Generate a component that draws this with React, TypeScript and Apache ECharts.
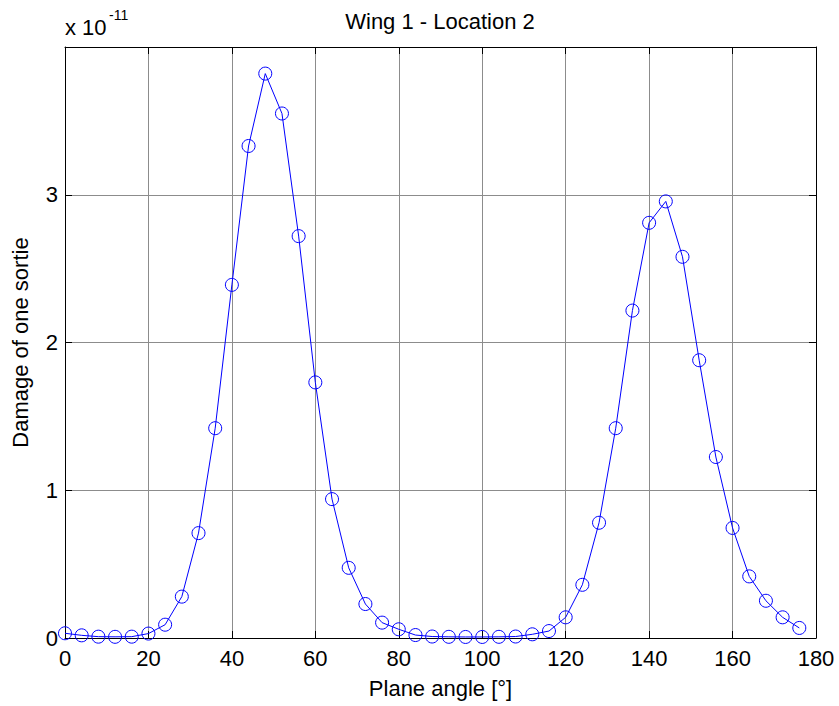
import React, { useEffect, useRef } from "react";
import * as echarts from "echarts";

const angles: number[] = [
  0, 4, 8, 12, 16, 20, 24, 28, 32, 36, 40, 44, 48, 52, 56, 60, 64, 68, 72, 76, 80, 84, 88,
  92, 96, 100, 104, 108, 112, 116, 120, 124, 128, 132, 136, 140, 144, 148, 152, 156, 160,
  164, 168, 172, 176,
];
const damage: number[] = [
  0.032, 0.018, 0.009, 0.008, 0.009, 0.03, 0.09, 0.28, 0.71, 1.42, 2.39, 3.33, 3.82, 3.55,
  2.72, 1.73, 0.94, 0.475, 0.23, 0.104, 0.059, 0.02, 0.01, 0.008, 0.007, 0.007, 0.008, 0.01,
  0.025, 0.047, 0.14, 0.36, 0.78, 1.42, 2.216, 2.81, 2.955, 2.58, 1.88, 1.225, 0.745, 0.417,
  0.252, 0.14, 0.068,
];
const xTicks = { min: 0, max: 180, interval: 20 };
const yTicks = { min: 0, max: 4, interval: 1 };

const FONT = "'Liberation Sans', Arial, sans-serif";
const FS = 22;

export default function App() {
  const ref = useRef<HTMLDivElement>(null);
  useEffect(() => {
    if (!ref.current) return;
    const chart = echarts.init(ref.current, undefined, { renderer: "svg" });
    const tickStyle = { inside: true, length: 7, lineStyle: { color: "#000", width: 1 } };
    const option: any = {
      animation: false,
      backgroundColor: "#fff",
      textStyle: { fontFamily: FONT },
      title: {
        text: "Wing 1 - Location 2",
        left: 440,
        textAlign: "center",
        top: 10,
        padding: 0,
        textStyle: { fontFamily: FONT, fontSize: FS, fontWeight: "normal", color: "#000" },
      },
      graphic: [
        {
          type: "text",
          left: 65,
          top: 16,
          style: { text: "x 10", fontFamily: FONT, fontSize: FS, fill: "#000" },
        },
        {
          type: "text",
          left: 109,
          top: 8,
          style: { text: "-11", fontFamily: FONT, fontSize: 14, fill: "#000" },
        },
      ],
      grid: {
        left: 65,
        right: 23,
        top: 47,
        bottom: 68,
        containLabel: false,
        outerBoundsMode: "none",
      },
      xAxis: [
        {
          type: "value",
          min: xTicks.min,
          max: xTicks.max,
          interval: xTicks.interval,
          position: "bottom",
          name: "Plane angle [°]",
          nameLocation: "middle",
          nameGap: 39,
          nameTextStyle: { fontFamily: FONT, fontSize: FS, color: "#000" },
          axisLine: { show: true, onZero: false, lineStyle: { color: "#000", width: 1 } },
          axisTick: tickStyle,
          axisLabel: { fontFamily: FONT, fontSize: FS, color: "#000", margin: 9 },
          splitLine: { show: true, lineStyle: { color: "#8c8c8c", width: 1 } },
        },
        {
          type: "value",
          min: xTicks.min,
          max: xTicks.max,
          interval: xTicks.interval,
          position: "top",
          axisLine: { show: true, onZero: false, lineStyle: { color: "#000", width: 1 } },
          axisTick: tickStyle,
          axisLabel: { show: false },
          splitLine: { show: false },
        },
      ],
      yAxis: [
        {
          type: "value",
          min: yTicks.min,
          max: yTicks.max,
          interval: yTicks.interval,
          position: "left",
          name: "Damage of one sortie",
          nameLocation: "middle",
          nameGap: 34,
          nameRotate: 90,
          nameTextStyle: { fontFamily: FONT, fontSize: FS, color: "#000" },
          axisLine: { show: true, onZero: false, lineStyle: { color: "#000", width: 1 } },
          axisTick: tickStyle,
          axisLabel: {
            fontFamily: FONT,
            fontSize: FS,
            color: "#000",
            margin: 7,
            formatter: (v: number) => (v >= yTicks.max ? "" : String(v)),
          },
          splitLine: { show: true, lineStyle: { color: "#8c8c8c", width: 1 } },
        },
        {
          type: "value",
          min: yTicks.min,
          max: yTicks.max,
          interval: yTicks.interval,
          position: "right",
          axisLine: { show: true, onZero: false, lineStyle: { color: "#000", width: 1 } },
          axisTick: tickStyle,
          axisLabel: { show: false },
          splitLine: { show: false },
        },
      ],
      series: [
        {
          type: "line",
          data: angles.map((a, i) => [a, damage[i]]),
          xAxisIndex: 0,
          yAxisIndex: 0,
          clip: false,
          symbol: "circle",
          symbolSize: 13,
          showAllSymbol: true,
          lineStyle: { color: "#0000ff", width: 1 },
          itemStyle: { color: "rgba(0,0,0,0)", borderColor: "#0000ff", borderWidth: 1 },
          z: 5,
        },
      ],
    };
    chart.setOption(option);
    return () => chart.dispose();
  }, []);
  return (
    <div
      ref={ref}
      style={{ position: "fixed", left: 0, top: 0, width: 839, height: 706 }}
    />
  );
}
